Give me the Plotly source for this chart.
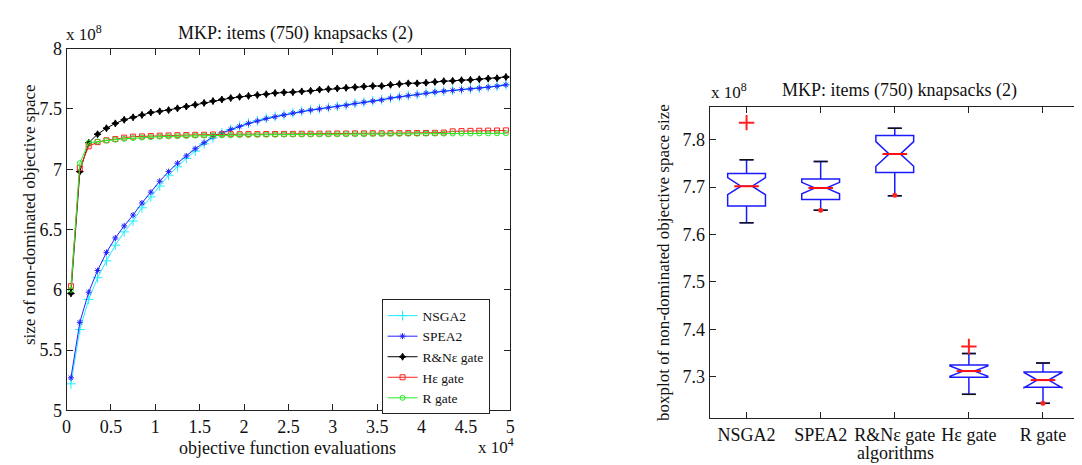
import plotly.graph_objects as go

# ---------------- data (left: convergence curves) ----------------
# objective function evaluations (plotted in units of 1e4)
evaluations = [500 + 1000 * k for k in range(50)]

# size of non-dominated objective space (units of 1e8)
nsga2 = [5.22, 5.67, 5.92, 6.10, 6.24, 6.37, 6.48, 6.57, 6.68, 6.77,
         6.86, 6.95, 7.02, 7.09, 7.15, 7.21, 7.26, 7.30, 7.33, 7.356,
         7.382, 7.402, 7.422, 7.437, 7.452, 7.467, 7.481, 7.491, 7.502, 7.512,
         7.522, 7.532, 7.546, 7.556, 7.566, 7.576, 7.590, 7.601, 7.611, 7.620,
         7.630, 7.640, 7.647, 7.653, 7.660, 7.666, 7.673, 7.681, 7.689, 7.700]
spea2 = [5.27, 5.73, 5.98, 6.16, 6.31, 6.43, 6.53, 6.62, 6.72, 6.81,
         6.90, 6.98, 7.05, 7.11, 7.17, 7.22, 7.27, 7.30, 7.33, 7.355,
         7.380, 7.400, 7.420, 7.435, 7.450, 7.465, 7.480, 7.490, 7.500, 7.510,
         7.520, 7.530, 7.545, 7.555, 7.565, 7.575, 7.590, 7.600, 7.610, 7.620,
         7.630, 7.640, 7.647, 7.653, 7.660, 7.665, 7.672, 7.680, 7.688, 7.700]
rne_gate = [5.97, 6.98, 7.22, 7.29, 7.34, 7.38, 7.41, 7.43, 7.45, 7.47,
            7.48, 7.49, 7.505, 7.52, 7.535, 7.55, 7.565, 7.578, 7.59, 7.60,
            7.608, 7.615, 7.622, 7.632, 7.637, 7.639, 7.645, 7.65, 7.66, 7.664,
            7.67, 7.675, 7.68, 7.686, 7.69, 7.69, 7.70, 7.706, 7.712, 7.712,
            7.717, 7.724, 7.73, 7.733, 7.738, 7.741, 7.746, 7.752, 7.755, 7.765]
he_gate = [6.03, 7.01, 7.19, 7.225, 7.24, 7.25, 7.262, 7.27, 7.272, 7.275,
           7.278, 7.28, 7.282, 7.283, 7.285, 7.286, 7.288, 7.289, 7.290, 7.290,
           7.291, 7.291, 7.292, 7.292, 7.293, 7.293, 7.294, 7.294, 7.295, 7.295,
           7.296, 7.296, 7.297, 7.297, 7.298, 7.298, 7.299, 7.299, 7.300, 7.300,
           7.300, 7.302, 7.304, 7.314, 7.316, 7.318, 7.319, 7.320, 7.321, 7.322]
r_gate = [6.00, 7.05, 7.22, 7.23, 7.238, 7.245, 7.252, 7.258, 7.262, 7.266,
          7.270, 7.272, 7.274, 7.276, 7.278, 7.279, 7.280, 7.281, 7.282, 7.283,
          7.284, 7.285, 7.286, 7.286, 7.287, 7.287, 7.288, 7.288, 7.289, 7.289,
          7.290, 7.290, 7.291, 7.291, 7.292, 7.292, 7.293, 7.293, 7.294, 7.294,
          7.295, 7.295, 7.295, 7.296, 7.296, 7.296, 7.297, 7.297, 7.298, 7.298]

# ---------------- data (right: boxplot statistics, units of 1e8) ----------------
algorithms = ["NSGA2", "SPEA2", "R&Nε gate", "Hε gate", "R gate"]
box_lowerfence = [7.625, 7.651, 7.682, 7.263, 7.244]
box_q1 = [7.660, 7.674, 7.731, 7.299, 7.278]
box_median = [7.702, 7.698, 7.770, 7.312, 7.293]
box_q3 = [7.729, 7.717, 7.809, 7.325, 7.310]
box_upperfence = [7.758, 7.754, 7.824, 7.349, 7.329]
box_notchspan = [0.018, 0.012, 0.026, 0.011, 0.016]
outlier_plus_idx = [1, 4]
outlier_plus_val = [7.836, 7.364]
outlier_dot_idx = [2, 3, 5]
outlier_dot_val = [7.651, 7.683, 7.244]

# ---------------- style ----------------
FONT = "Liberation Serif, Times New Roman, serif"
W, H = 1082, 465
BOX_W = 0.51
NOTCH_W = 0.35
WHISK_W = 0.37


def px_x(p):
    return p / W


def px_y(p):
    return 1 - p / H


fig = go.Figure()

xs = [e / 1e4 for e in evaluations]
series = [
    ("NSGA2", nsga2, "#22eeff", "cross-thin-open", 7),
    ("SPEA2", spea2, "#2222ff", "asterisk-open", 5),
    ("R&Nε gate", rne_gate, "#000000", "star-diamond", 5),
    ("Hε gate", he_gate, "#ff2020", "square-open", 5),
    ("R gate", r_gate, "#22ee22", "circle-open", 5),
]
for name, ys, col, sym, sz in series:
    fig.add_trace(go.Scatter(
        x=xs, y=ys, name=name, mode="lines+markers",
        line=dict(color=col, width=1),
        marker=dict(symbol=sym, size=sz, color=col, line=dict(color=col, width=1)),
        xaxis="x", yaxis="y"))

# notched boxes
for i, name in enumerate(algorithms):
    pos = i + 1
    fig.add_trace(go.Box(
        x=[pos], q1=[box_q1[i]], median=[box_median[i]], q3=[box_q3[i]],
        lowerfence=[box_lowerfence[i]], upperfence=[box_upperfence[i]],
        notchspan=[box_notchspan[i]], notched=True, notchwidth=NOTCH_W,
        width=BOX_W, whiskerwidth=WHISK_W, boxpoints=False,
        line=dict(color="#1a1aff", width=1.5), fillcolor="rgba(0,0,0,0)",
        showlegend=False, hoverinfo="skip", xaxis="x2", yaxis="y2"))

# red medians and black whisker caps drawn over the boxes
med_x, med_y, cap_x, cap_y = [], [], [], []
hw = BOX_W / 2
for i in range(len(algorithms)):
    pos = i + 1
    m = hw * (1 - NOTCH_W)
    med_x += [pos - m, pos + m, None]
    med_y += [box_median[i], box_median[i], None]
    c = hw * WHISK_W
    for v in (box_lowerfence[i], box_upperfence[i]):
        cap_x += [pos - c, pos + c, None]
        cap_y += [v, v, None]
fig.add_trace(go.Scatter(x=med_x, y=med_y, mode="lines", line=dict(color="#ff1010", width=2),
                         showlegend=False, hoverinfo="skip", xaxis="x2", yaxis="y2"))
fig.add_trace(go.Scatter(x=cap_x, y=cap_y, mode="lines", line=dict(color="#111111", width=1.5),
                         showlegend=False, hoverinfo="skip", xaxis="x2", yaxis="y2"))
fig.add_trace(go.Scatter(x=outlier_plus_idx, y=outlier_plus_val, mode="markers",
                         marker=dict(symbol="cross-thin-open", size=11, color="#ff2020",
                                     line=dict(color="#ff2020", width=2)),
                         showlegend=False, hoverinfo="skip", xaxis="x2", yaxis="y2"))
fig.add_trace(go.Scatter(x=outlier_dot_idx, y=outlier_dot_val, mode="markers",
                         marker=dict(symbol="circle", size=5, color="#ff2020"),
                         showlegend=False, hoverinfo="skip", xaxis="x2", yaxis="y2"))

axis_common = dict(showline=True, linecolor="#222", linewidth=1, mirror="ticks",
                   ticks="inside", ticklen=6, tickcolor="#222", showgrid=False,
                   zeroline=False, tickfont=dict(family=FONT, size=18, color="#111"))

fig.update_layout(
    width=W, height=H, margin=dict(l=0, r=0, t=0, b=0),
    paper_bgcolor="white", plot_bgcolor="white",
    font=dict(family=FONT, color="#111"),
    xaxis=dict(domain=[px_x(54), px_x(502)], range=[0, 5], tickvals=[k * 0.5 for k in range(11)],
               anchor="y", **axis_common),
    yaxis=dict(domain=[px_y(410), px_y(32)], range=[5, 8], tickvals=[5 + k * 0.5 for k in range(7)],
               anchor="x", **axis_common),
    xaxis2=dict(domain=[px_x(703), px_x(1077)], range=[0.5, 5.5], tickvals=[1, 2, 3, 4, 5],
                ticktext=algorithms, anchor="y2", **axis_common),
    yaxis2=dict(domain=[px_y(418), px_y(93)], range=[7.213, 7.869],
                tickvals=[7.3, 7.4, 7.5, 7.6, 7.7, 7.8], ticktext=["7.3", "7.4", "7.5", "7.6", "7.7", "7.8"],
                anchor="x2", **axis_common),
    legend=dict(x=px_x(372), y=px_y(294), xanchor="left", yanchor="top",
                bordercolor="#222", borderwidth=1, bgcolor="white",
                font=dict(family=FONT, size=13.5, color="#111"), tracegroupgap=0,
                itemwidth=30),
    showlegend=True,
)

ann = [
    dict(text="MKP: items (750) knapsacks (2)", x=px_x(285), y=px_y(16), size=18),
    dict(text="x 10<sup>8</sup>", x=px_x(72), y=px_y(16), size=17),
    dict(text="objective function evaluations", x=px_x(277), y=px_y(449), size=18),
    dict(text="x 10<sup>4</sup>", x=px_x(488), y=px_y(447), size=17),
    dict(text="MKP: items (750) knapsacks (2)", x=px_x(895), y=px_y(76), size=18),
    dict(text="x 10<sup>8</sup>", x=px_x(723), y=px_y(76), size=17),
    dict(text="algorithms", x=px_x(891), y=px_y(455), size=18),
]
for a in ann:
    fig.add_annotation(text=a["text"], x=a["x"], y=a["y"], xref="paper", yref="paper",
                       showarrow=False, xanchor="center", yanchor="middle",
                       font=dict(family=FONT, size=a["size"], color="#111"))
fig.add_annotation(text="size of non-dominated objective space", x=px_x(16), y=px_y(205),
                   xref="paper", yref="paper", showarrow=False, textangle=-90,
                   xanchor="center", yanchor="middle", font=dict(family=FONT, size=17, color="#111"))
fig.add_annotation(text="boxplot of non-dominated objective space size", x=px_x(656), y=px_y(255),
                   xref="paper", yref="paper", showarrow=False, textangle=-90,
                   xanchor="center", yanchor="middle", font=dict(family=FONT, size=17, color="#111"))

fig.write_html("out.html")
